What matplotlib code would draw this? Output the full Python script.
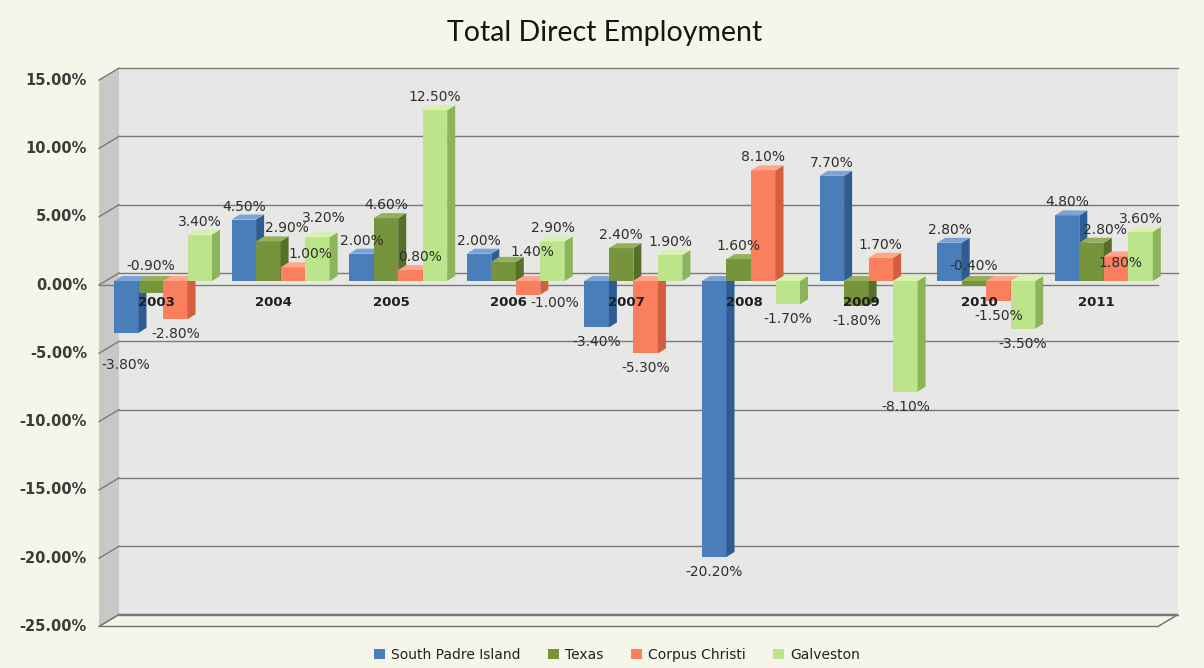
import matplotlib
matplotlib.use('agg')
import matplotlib.pyplot as plt
from matplotlib.patches import Polygon, Patch

years = ['2003', '2004', '2005', '2006', '2007', '2008', '2009', '2010', '2011']
series = ['South Padre Island', 'Texas', 'Corpus Christi', 'Galveston']
south_padre = [-3.8, 4.5, 2.0, 2.0, -3.4, -20.2, 7.7, 2.8, 4.8]
texas = [-0.9, 2.9, 4.6, 1.4, 2.4, 1.6, -1.8, -0.4, 2.8]
corpus_christi = [-2.8, 1.0, 0.8, -1.0, -5.3, 8.1, 1.7, -1.5, 1.8]
galveston = [3.4, 3.2, 12.5, 2.9, 1.9, -1.7, -8.1, -3.5, 3.6]
y_ticks = [15, 10, 5, 0, -5, -10, -15, -20, -25]

# (front, side, top) shades for each series
colors = [
    ('#4a7ebb', '#2f5d93', '#7ba3d6'),
    ('#77933c', '#56702a', '#95b05a'),
    ('#fa7f5e', '#d45e40', '#ffa68a'),
    ('#bce48a', '#8cb45a', '#d6f2ae'),
]

# pixel scales of the chart (figure is 1204x668 at dpi 100)
PX_X = 117.6   # pixels per category
PX_Y = 13.66   # pixels per percent
ZERO_PX = 281  # bar plane zero line, from the top
FIRST_PX = 163 # centre of the first group

def dx(px):
    return px / PX_X

def dy(px):
    return -px / PX_Y

# depth offsets relative to the bar plane
FDX, FDY = dx(-7), dy(4)      # front edge of the box
BDX, BDY = dx(13), dy(-8)     # back wall
DDX, DDY = dx(8), dy(-5)      # bar depth

# a few labels nudged sideways the way the spreadsheet placed them (pixels)
label_nudge = {
    (0, 0): (0, 17), (1, 1): (19, 0), (2, 1): (18, 0), (3, 1): (6, -6),
    (2, 2): (10, 0), (1, 3): (29, 3), (2, 3): (27, -7), (1, 8): (13, 0),
    (2, 8): (4, 20),
}

fig = plt.figure(figsize=(12.04, 6.68), dpi=100)
fig.patch.set_facecolor('#f6f5ea')
W, H = 1204, 668
left_px, right_px, top_px, bot_px = 90, 1190, 55, 640
ax = fig.add_axes([left_px / W, 1 - bot_px / H, (right_px - left_px) / W, (bot_px - top_px) / H])
ax.set_xlim((left_px - FIRST_PX) / PX_X, (right_px - FIRST_PX) / PX_X)
ax.set_ylim((ZERO_PX - bot_px) / PX_Y, (ZERO_PX - top_px) / PX_Y)
ax.axis('off')

xl = (106 - FIRST_PX) / PX_X
xr = (1165 - FIRST_PX) / PX_X
ymin, ymax = min(y_ticks), max(y_ticks)

# walls and floor
ax.add_patch(Polygon([(xl + BDX, ymin + BDY), (xr + BDX, ymin + BDY),
                      (xr + BDX, ymax + BDY), (xl + BDX, ymax + BDY)],
                     closed=True, fc='#e7e7e5', ec='none', zorder=0))
ax.add_patch(Polygon([(xl + FDX, ymin + FDY), (xl + FDX, ymax + FDY),
                      (xl + BDX, ymax + BDY), (xl + BDX, ymin + BDY)],
                     closed=True, fc='#c8c8c6', ec='none', zorder=0))
ax.add_patch(Polygon([(xl + FDX, ymin + FDY), (xr + FDX, ymin + FDY),
                      (xr + BDX, ymin + BDY), (xl + BDX, ymin + BDY)],
                     closed=True, fc='#f4f3e8', ec='#6e6e6e', lw=1, zorder=0.5))

grid_c = '#7a7a7a'
for v in y_ticks:
    ax.plot([xl + BDX, xr + BDX], [v + BDY, v + BDY], color=grid_c, lw=1, zorder=1)
    ax.plot([xl + FDX, xl + BDX], [v + FDY, v + BDY], color=grid_c, lw=1, zorder=1)
    ax.annotate(f'{v:.2f}%', (xl + FDX, v + FDY), xytext=(-12, 0), textcoords='offset pixels',
                ha='right', va='center', fontsize=10.5, fontweight='bold', color='#3a3a3a')

# category axis line at the front
ax.plot([xl + FDX, xr + FDX], [FDY, FDY], color=grid_c, lw=1, zorder=1)

all_values = [south_padre, texas, corpus_christi, galveston]
bw = dx(24.5)
for i in range(len(years)):
    for k, vals in enumerate(all_values):
        v = vals[i]
        x = i + (k - 1.5) * bw
        front, side, top = colors[k]
        z = 2 + i * 0.1 + k * 0.02
        ax.bar(x, v, width=bw, color=front, edgecolor='none', zorder=z)
        lo, hi = min(0, v), max(0, v)
        ax.add_patch(Polygon([(x + bw / 2, lo), (x + bw / 2 + DDX, lo + DDY),
                              (x + bw / 2 + DDX, hi + DDY), (x + bw / 2, hi)],
                             closed=True, fc=side, ec='none', zorder=z))
        ax.add_patch(Polygon([(x - bw / 2, hi), (x + bw / 2, hi),
                              (x + bw / 2 + DDX, hi + DDY), (x - bw / 2 + DDX, hi + DDY)],
                             closed=True, fc=top, ec='none', zorder=z))

for i, yr in enumerate(years):
    ax.annotate(yr, (i + FDX, FDY), xytext=(0, -17), textcoords='offset pixels',
                ha='center', va='center', fontsize=9.5, fontweight='bold', color='#1e1e1e', zorder=5)

# value labels
for k, vals in enumerate(all_values):
    for i, v in enumerate(vals):
        x = i + (k - 1.5) * bw
        if v >= 0:
            anchor, off = v, 13
        elif v > -1:
            anchor, off = 0, 15
        else:
            anchor, off = v, -15
        nx, ny = label_nudge.get((k, i), (0, 0))
        ax.annotate(f'{v:.2f}%', (x, anchor), xytext=(nx, off - ny), textcoords='offset pixels',
                    ha='center', va='center', fontsize=10, color='#2e2e2e', zorder=6)

fig.text(605 / W, 1 - 33 / H, 'Total Direct Employment', ha='center', va='center',
         fontsize=20.5, family='Lato', color='#151515')

handles = [Patch(facecolor=c[0], edgecolor='none') for c in colors]
fig.legend(handles, series, loc='center', bbox_to_anchor=(617 / W, 1 - 655 / H), ncol=4,
           frameon=False, fontsize=10, handlelength=0.8, handleheight=0.8,
           handletextpad=0.4, columnspacing=2.0, labelcolor='#222222')

fig.savefig('out.png', dpi=100, facecolor=fig.get_facecolor())
